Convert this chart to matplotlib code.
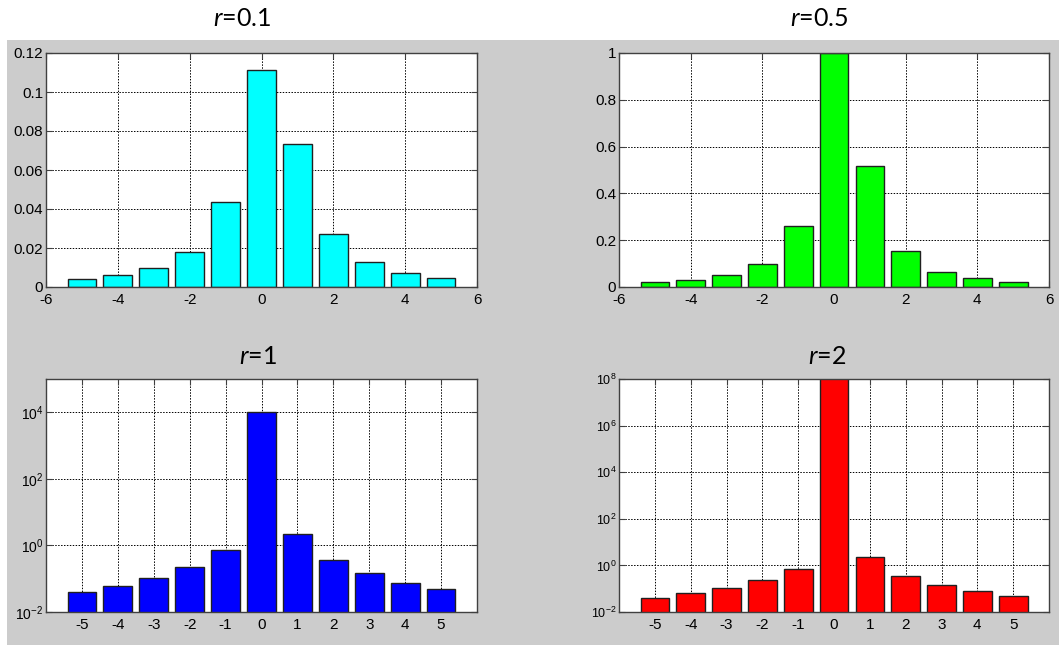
import numpy as np
import matplotlib
matplotlib.use('Agg')
import matplotlib.pyplot as plt
from matplotlib.patches import Rectangle
from matplotlib.ticker import FixedLocator, NullLocator, FuncFormatter

plt.rcParams['font.family'] = ['Liberation Sans', 'DejaVu Sans']
plt.rcParams['mathtext.fontset'] = 'custom'
plt.rcParams['mathtext.rm'] = 'Liberation Sans'
plt.rcParams['mathtext.it'] = 'Lato:italic'
plt.rcParams['axes.unicode_minus'] = False

# данные
k = np.arange(-5, 6)
v01 = [0.0041, 0.0062, 0.0097, 0.0179, 0.0434, 0.1111, 0.0732, 0.027, 0.0128, 0.0072, 0.0048]
v05 = [0.020, 0.030, 0.050, 0.098, 0.261, 1.0, 0.517, 0.152, 0.0655, 0.040, 0.023]
v1 = [0.0397, 0.0614, 0.104, 0.222, 0.718, 1.0e4, 2.16, 0.36, 0.144, 0.0755, 0.0489]
v2 = [0.0398, 0.063, 0.107, 0.228, 0.72, 1.0e9, 2.28, 0.36, 0.144, 0.079, 0.05]
titles = ['=0.1', '=0.5', '=1', '=2']

W, H = 1059, 645
fig = plt.figure(figsize=(W / 100, H / 100), dpi=100, facecolor='white')
fig.patches.append(Rectangle((7 / W, 0), 1, (H - 40) / H, transform=fig.transFigure,
                             facecolor='#cccccc', edgecolor='none', zorder=-10))

def box(x0, y0, x1, y1):
    return [x0 / W, (H - y1) / H, (x1 - x0) / W, (y1 - y0) / H]

ax1 = fig.add_axes(box(46, 53, 477, 287))
ax2 = fig.add_axes(box(619, 53, 1049, 287))
ax3 = fig.add_axes(box(46, 379, 477, 612))
ax4 = fig.add_axes(box(619, 379, 1049, 612))

def style(ax):
    ax.set_facecolor('white')
    ax.set_axisbelow(True)
    ax.grid(True, color='black', linestyle=(0, (1.5, 1.5)), linewidth=0.7)
    for s in ax.spines.values():
        s.set_color('#404040')
        s.set_linewidth(1)
    ax.tick_params(direction='in', length=4, top=True, right=True, color='#404040',
                   labelsize=11, pad=2)
    ax.tick_params(axis='x', pad=4)
    ax.set_xlim(-6, 6)

g = FuncFormatter(lambda v, p: '%g' % v)

ax1.bar(k, v01, width=0.8, color='#00ffff', edgecolor='#202020', linewidth=1)
style(ax1)
ax1.set_ylim(0, 0.12)
ax1.set_yticks(np.arange(0, 0.121, 0.02))
ax1.set_xticks(np.arange(-6, 7, 2))
ax1.yaxis.set_major_formatter(g)

ax2.bar(k, v05, width=0.8, color='#00ff00', edgecolor='#202020', linewidth=1)
style(ax2)
ax2.set_ylim(0, 1)
ax2.set_yticks(np.arange(0, 1.01, 0.2))
ax2.set_xticks(np.arange(-6, 7, 2))
ax2.yaxis.set_major_formatter(g)

ax3.bar(k, v1, width=0.8, color='#0000ff', edgecolor='#202020', linewidth=1)
ax3.set_yscale('log')
style(ax3)
ax3.set_ylim(1e-2, 1e5)
ax3.yaxis.set_major_locator(FixedLocator([1e-2, 1e0, 1e2, 1e4]))
ax3.yaxis.set_minor_locator(NullLocator())
ax3.set_xticks(k)
ax3.tick_params(axis='y', labelsize=10)

ax4.bar(k, v2, width=0.8, color='#ff0000', edgecolor='#202020', linewidth=1)
ax4.set_yscale('log')
style(ax4)
ax4.set_ylim(1e-2, 1e8)
ax4.yaxis.set_major_locator(FixedLocator([1e-2, 1e0, 1e2, 1e4, 1e6, 1e8]))
ax4.yaxis.set_minor_locator(NullLocator())
ax4.set_xticks(k)
ax4.tick_params(axis='y', labelsize=9)

# подписи r=...
pos = [(242, 19), (819, 19), (258, 357), (827, 357)]
for (x, y), t in zip(pos, titles):
    fig.text(x / W, 1 - y / H, r'$\mathit{r}$' + t, ha='center', va='center',
             fontsize=18, family='Lato')

fig.savefig('out.png', dpi=100, facecolor=fig.get_facecolor())
